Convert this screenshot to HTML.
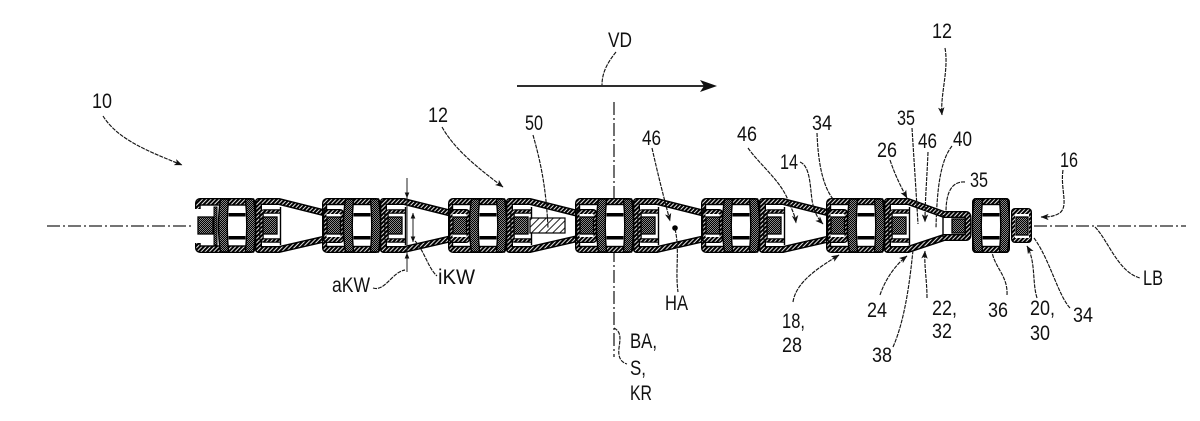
<!DOCTYPE html>
<html><head><meta charset="utf-8">
<style>
html,body{margin:0;padding:0;background:#fff;width:1200px;height:421px;overflow:hidden;}
svg{display:block;}
text{font-family:"Liberation Sans",Arial,sans-serif;font-size:21px;fill:#111;}
.ld{fill:none;stroke:#151515;stroke-width:1.15;stroke-dasharray:4 1;}
.cl{fill:none;stroke:#222;stroke-width:1.3;stroke-dasharray:13 3 2 3;}
</style></head><body>
<svg width="1200" height="421" viewBox="0 0 1200 421" xmlns="http://www.w3.org/2000/svg">
<defs>
<pattern id="ht" width="3" height="3" patternUnits="userSpaceOnUse" patternTransform="rotate(45)"><rect width="3" height="3" fill="#fff"/><rect width="2.1" height="3" fill="#000"/></pattern>
<pattern id="ck" width="2" height="2" patternUnits="userSpaceOnUse"><rect width="2" height="2" fill="#888"/><rect width="1" height="1" fill="#000"/><rect x="1" y="1" width="1" height="1" fill="#000"/></pattern>
<pattern id="sp" width="5" height="5" patternUnits="userSpaceOnUse" patternTransform="rotate(45)"><rect width="5" height="5" fill="#fff"/><rect width="1" height="5" fill="#222"/></pattern>
<marker id="ar" viewBox="0 0 10 10" refX="9.5" refY="5" markerWidth="8" markerHeight="8" markerUnits="userSpaceOnUse" orient="auto"><path d="M0,1 L10,5 L0,9 L2.5,5 Z" fill="#111"/></marker>
<marker id="ar2" viewBox="0 0 10 10" refX="9.5" refY="5" markerWidth="6" markerHeight="6" markerUnits="userSpaceOnUse" orient="auto-start-reverse"><path d="M0,1 L10,5 L0,9 Z" fill="#111"/></marker>

<g id="bars">
 <path d="M-16.5,199 Q-20.5,225.5 -16.5,252 L-8.5,252 Q-11,225.5 -8.5,199 Z" fill="url(#ck)" stroke="#000" stroke-width="1.4"/>
 <path d="M8.5,199 Q11,225.5 8.5,252 L16.5,252 Q20.5,225.5 16.5,199 Z" fill="url(#ck)" stroke="#000" stroke-width="1.4"/>
 <rect x="-8.5" y="213" width="17" height="3.5" fill="#000"/>
 <rect x="-8.5" y="236" width="17" height="3.5" fill="#000"/>
</g>

<g id="blk">
 <rect x="-40" y="198" width="59" height="55" rx="5" fill="#000"/>
 <rect x="-38.7" y="199.3" width="56.4" height="52.4" rx="4" fill="url(#ht)"/>
 <rect x="-35.5" y="204.5" width="51" height="42" fill="#fff" stroke="#000" stroke-width="1.4"/>
 <rect x="-39" y="209" width="21" height="34" rx="4" fill="#000"/>
 <rect x="-37.7" y="210.3" width="18.4" height="31.4" rx="3" fill="url(#ht)"/>
 <rect x="-35.5" y="214" width="14" height="23" fill="#fff"/>
 <rect x="-35" y="217" width="13.5" height="17" fill="url(#ck)" stroke="#000" stroke-width="1.3"/>
 <use href="#bars"/>
</g>

<g id="wide">
 <path d="M43,211.5 L27,211.5 Q24.5,211.5 24.5,214 L24.5,238 Q24.5,240.5 27,240.5 L43,240.5" fill="none" stroke="#000" stroke-width="4.5"/>
 <path d="M43,211.5 L27,211.5 Q24.5,211.5 24.5,214 L24.5,238 Q24.5,240.5 27,240.5 L43,240.5" fill="none" stroke="url(#ht)" stroke-width="2.2"/>
 <line x1="43.5" y1="207" x2="43.5" y2="245" stroke="#000" stroke-width="1.4"/>
 <rect x="26" y="217" width="14" height="17" fill="url(#ck)" stroke="#000" stroke-width="1.3"/>
</g>

<g id="lnk">
 <path d="M21.5,201.5 L42,201.5 L92,214 L92,238 L42,249.5 L21.5,249.5 Z" fill="#fff" stroke="#000" stroke-width="7" stroke-linejoin="round"/>
 <path d="M21.5,201.5 L42,201.5 L92,214 L92,238 L42,249.5 L21.5,249.5 Z" fill="none" stroke="url(#ht)" stroke-width="4.2" stroke-linejoin="round"/>
 <use href="#wide"/>
</g>
</defs>

<!-- center lines -->
<line class="cl" x1="47" y1="226" x2="192" y2="226"/>
<line class="cl" x1="1034" y1="226" x2="1186" y2="226"/>
<line class="cl" x1="614" y1="102" x2="614" y2="357"/>

<!-- links -->
<use href="#lnk" x="237"/>
<use href="#lnk" x="362"/>
<use href="#lnk" x="488"/>
<use href="#lnk" x="615"/>
<use href="#lnk" x="741"/>
<g transform="translate(866,0)">
 <path d="M21.5,201.5 L42,201.5 L78,214.5 L100,214.5 Q102,214.5 102,217 L102,235 Q102,237.5 100,237.5 L78,237.5 L42,249.5 L21.5,249.5 Z" fill="#fff" stroke="#000" stroke-width="7" stroke-linejoin="round"/>
 <path d="M21.5,201.5 L42,201.5 L78,214.5 L100,214.5 Q102,214.5 102,217 L102,235 Q102,237.5 100,237.5 L78,237.5 L42,249.5 L21.5,249.5 Z" fill="none" stroke="url(#ht)" stroke-width="4.2" stroke-linejoin="round"/>
 <use href="#wide"/>
 <line x1="77" y1="215" x2="77" y2="237" stroke="#000" stroke-width="1.4"/>
 <rect x="86" y="219" width="13" height="14" fill="url(#ck)" stroke="#000" stroke-width="1.3"/>
</g>

<!-- blocks -->
<g transform="translate(237,0)">
 <rect x="-42" y="198" width="61" height="55" rx="5" fill="#000"/>
 <rect x="-40.7" y="199.3" width="58.4" height="52.4" rx="4" fill="url(#ht)"/>
 <rect x="-37" y="205" width="52.5" height="41" fill="#fff" stroke="#000" stroke-width="1.4"/>
 <rect x="-43" y="209" width="7" height="34" fill="#fff"/>
 <rect x="-39" y="217" width="15" height="17" fill="url(#ck)" stroke="#000" stroke-width="1.3"/>
 <rect x="-23" y="207" width="3" height="38" fill="url(#ck)" stroke="#000" stroke-width="1"/>
 <use href="#bars"/>
</g>
<use href="#blk" x="362"/>
<use href="#blk" x="488"/>
<use href="#blk" x="615"/>
<use href="#blk" x="741"/>
<use href="#blk" x="866"/>
<g transform="translate(991,0)">
 <rect x="-19" y="198" width="38" height="55" rx="4" fill="#000"/>
 <rect x="-17.7" y="199.3" width="35.4" height="52.4" rx="3" fill="url(#ht)"/>
 <rect x="-15" y="204.5" width="30" height="42" fill="#fff" stroke="#000" stroke-width="1.4"/>
 <use href="#bars"/>
</g>
<!-- end box -->
<rect x="1011" y="208" width="21" height="35" rx="4" fill="#000"/>
<rect x="1012.3" y="209.3" width="18.4" height="32.4" rx="3" fill="url(#ht)"/>
<rect x="1015" y="214" width="14" height="24" fill="#fff"/>
<rect x="1016" y="217" width="12" height="18" fill="url(#ck)" stroke="#000" stroke-width="1.3"/>

<!-- part 50 -->
<rect x="530" y="218" width="35" height="15" fill="url(#sp)" stroke="#000" stroke-width="1.2"/>
<!-- HA dot -->
<circle cx="675" cy="228" r="2.8" fill="#000"/>

<!-- VD arrow -->
<line x1="517" y1="86" x2="706" y2="86" stroke="#111" stroke-width="1.7"/>
<path d="M717,86 L700,80 L704,86 L700,92 Z" fill="#111"/>

<!-- dimensions -->
<line x1="407" y1="178" x2="407" y2="272" stroke="#222" stroke-width="1"/>
<path d="M407,178 L407,198" fill="none" stroke="#222" stroke-width="1" marker-end="url(#ar2)"/>
<path d="M407,272 L407,253" fill="none" stroke="#222" stroke-width="1" marker-end="url(#ar2)"/>
<path d="M413,213 L413,242" fill="none" stroke="#222" stroke-width="1" marker-start="url(#ar2)" marker-end="url(#ar2)"/>

<!-- leaders -->
<path class="ld" d="M103,116 C118,140 150,152 182,165" marker-end="url(#ar)"/>
<path class="ld" d="M442,127 C455,150 478,168 503,187" marker-end="url(#ar)"/>
<path class="ld" d="M533,135 C540,160 546,185 548,228"/>
<path class="ld" d="M616,52 C608,62 602,72 602,85"/>
<path class="ld" d="M652,148 C658,175 664,198 670,221" marker-end="url(#ar)"/>
<path class="ld" d="M748,148 C760,165 780,180 788,200 C792,210 795,215 796,223" marker-end="url(#ar)"/>
<path class="ld" d="M817,133 C818,160 822,185 833,199"/>
<path class="ld" d="M800,162 C810,166 810,185 812,200 C814,212 818,219 823,224" marker-end="url(#ar)"/>
<path class="ld" d="M890,160 C895,175 901,187 907,198" marker-end="url(#ar)"/>
<path class="ld" d="M912,128 C914,160 916,190 918,224"/>
<path class="ld" d="M928,152 C927,178 925,200 925,222" marker-end="url(#ar)"/>
<path class="ld" d="M952,146 C941,160 937,185 936,228"/>
<path class="ld" d="M965,182 C952,181 946,192 946,212"/>
<path class="ld" d="M945,48 C949,70 940,95 942,115" marker-end="url(#ar)"/>
<path class="ld" d="M1063,170 C1060,190 1070,208 1058,214 C1052,217 1047,217 1041,217" marker-end="url(#ar)"/>
<path class="ld" d="M1095,227 C1108,240 1118,272 1140,278"/>
<path class="ld" d="M1070,308 C1058,295 1050,260 1034,238"/>
<path class="ld" d="M1037,298 C1032,282 1036,262 1027,246" marker-end="url(#ar)"/>
<path class="ld" d="M1007,295 C1008,276 995,268 992,252"/>
<path class="ld" d="M927,298 C927,280 924,266 925,251" marker-end="url(#ar)"/>
<path class="ld" d="M880,295 C885,280 895,265 907,256" marker-end="url(#ar)"/>
<path class="ld" d="M893,347 C905,320 910,280 913,250"/>
<path class="ld" d="M793,302 C796,282 818,268 839,255" marker-end="url(#ar)"/>
<path class="ld" d="M675,229 C680,250 675,270 678,292"/>
<path class="ld" d="M614,328 C622,332 620,340 619,348 C618,356 620,362 627,364"/>
<path class="ld" d="M373,288 C385,292 392,272 405,270"/>
<path class="ld" d="M415,241 C424,250 428,268 437,276"/>

<!-- labels -->
<text x="92" y="108" textLength="20" lengthAdjust="spacingAndGlyphs">10</text>
<text x="428" y="122" textLength="20" lengthAdjust="spacingAndGlyphs">12</text>
<text x="525" y="130" textLength="18" lengthAdjust="spacingAndGlyphs">50</text>
<text x="608" y="47" textLength="24" lengthAdjust="spacingAndGlyphs">VD</text>
<text x="642" y="145" textLength="19" lengthAdjust="spacingAndGlyphs">46</text>
<text x="737" y="141" textLength="20" lengthAdjust="spacingAndGlyphs">46</text>
<text x="812" y="130" textLength="20" lengthAdjust="spacingAndGlyphs">34</text>
<text x="780" y="169" textLength="18" lengthAdjust="spacingAndGlyphs">14</text>
<text x="897" y="125" textLength="18" lengthAdjust="spacingAndGlyphs">35</text>
<text x="918" y="148" textLength="19" lengthAdjust="spacingAndGlyphs">46</text>
<text x="953" y="146" textLength="19" lengthAdjust="spacingAndGlyphs">40</text>
<text x="877" y="157" textLength="20" lengthAdjust="spacingAndGlyphs">26</text>
<text x="970" y="187" textLength="18" lengthAdjust="spacingAndGlyphs">35</text>
<text x="932" y="38" textLength="20" lengthAdjust="spacingAndGlyphs">12</text>
<text x="1060" y="167" textLength="18" lengthAdjust="spacingAndGlyphs">16</text>
<text x="1143" y="285" textLength="20" lengthAdjust="spacingAndGlyphs">LB</text>
<text x="1073" y="322" textLength="20" lengthAdjust="spacingAndGlyphs">34</text>
<text x="1030" y="315" textLength="25" lengthAdjust="spacingAndGlyphs">20,</text>
<text x="1030" y="340" textLength="20" lengthAdjust="spacingAndGlyphs">30</text>
<text x="988" y="317" textLength="20" lengthAdjust="spacingAndGlyphs">36</text>
<text x="932" y="315" textLength="25" lengthAdjust="spacingAndGlyphs">22,</text>
<text x="932" y="338" textLength="20" lengthAdjust="spacingAndGlyphs">32</text>
<text x="867" y="317" textLength="20" lengthAdjust="spacingAndGlyphs">24</text>
<text x="872" y="362" textLength="20" lengthAdjust="spacingAndGlyphs">38</text>
<text x="782" y="328" textLength="23" lengthAdjust="spacingAndGlyphs">18,</text>
<text x="782" y="352" textLength="20" lengthAdjust="spacingAndGlyphs">28</text>
<text x="665" y="310" textLength="23" lengthAdjust="spacingAndGlyphs">HA</text>
<text x="630" y="348" textLength="27" lengthAdjust="spacingAndGlyphs">BA,</text>
<text x="630" y="375" textLength="16" lengthAdjust="spacingAndGlyphs">S,</text>
<text x="630" y="400" textLength="22" lengthAdjust="spacingAndGlyphs">KR</text>
<text x="332" y="292" textLength="38" lengthAdjust="spacingAndGlyphs">aKW</text>
<text x="438" y="284" textLength="37" lengthAdjust="spacingAndGlyphs">iKW</text>
</svg>
</body></html>
